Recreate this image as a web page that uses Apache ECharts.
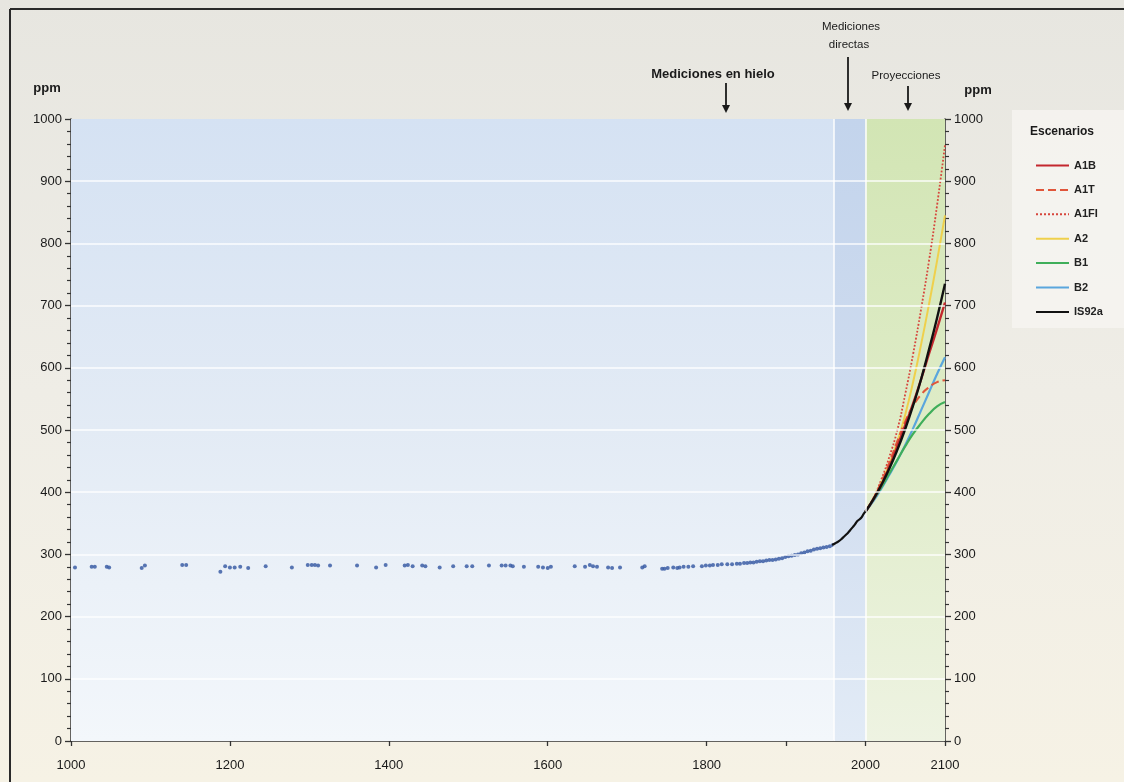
<!DOCTYPE html>
<html>
<head>
<meta charset="utf-8">
<script src="https://cdn.jsdelivr.net/npm/echarts@6/dist/echarts.min.js"></script>
<style>html,body{margin:0;padding:0;}#c{width:1124px;height:782px;}</style>
</head>
<body>
<div id="c"></div>
<script>
// ---- data ----
const iceYears = [1005,1026,1030,1045,1048,1089,1093,1140,1145,1188,1194,1200,1206,1213,1223,1245,1278,1298,1303,1307,1311,1326,1360,1384,1396,1420,1424,1430,1442,1446,1464,1481,1498,1505,1526,1542,1547,1553,1556,1570,1588,1594,1600,1604,1634,1647,1653,1657,1662,1676,1681,1691,1719,1722,1744,1747,1751,1758,1763,1766,1771,1777,1783,1794,1799,1804,1808,1814,1819,1826,1832,1838,1842,1847,1851,1855,1859,1863,1867,1871,1875,1879,1883,1887,1891,1895,1899,1903,1907,1911,1915,1919,1923,1927,1931,1935,1939,1943,1947,1951,1955,1959];
const iceValues = [279,280,280,280,279,278,282,283,283,272,281,279,279,280,278,281,279,283,283,283,282,282,282,279,283,282,283,281,282,281,279,281,281,281,282,282,282,282,281,280,280,279,278,280,281,280,283,281,280,279,278,279,279,281,277,277,278,279,278,279,280,280,281,281,282,282,283,283,284,284,284,285,285,286,286,287,287,288,289,289,290,291,291,292,293,294,296,297,298,299,300,302,303,305,306,308,309,310,311,312,313,315];
const directYears = [1958,1962,1966,1970,1974,1978,1982,1986,1990,1994,1998,2000];
const directValues = [315,318,321,325,330,335,341,347,354,358,366,369];
const projYears = [2000,2010,2020,2030,2040,2050,2060,2070,2080,2090,2100];
const A1B   = [369,389,412,441,474,508,543,582,623,663,705];
const A1T   = [369,390,417,448,482,514,539,557,569,577,580];
const A1FI  = [369,391,421,457,500,558,623,695,773,861,958];
const A2    = [369,390,415,446,481,525,578,638,703,772,845];
const B1    = [369,388,408,430,452,474,494,511,526,538,545];
const B2    = [369,386,406,428,451,476,503,532,561,590,617];
const IS92a = [369,389,412,438,468,502,540,582,630,680,735];
const scenarioNames = ['A1B','A1T','A1FI','A2','B1','B2','IS92a'];
const xTickValues = [1000,1200,1400,1600,1800,1900,2000,2100];
const xLabelValues = [1000,1200,1400,1600,1800,2000,2100];
const yGridValues = [100,200,300,400,500,600,700,800,900];
const periods = [[1000,1960],[1960,2000],[2000,2100]];

// ---- chart ----
const chart = echarts.init(document.getElementById('c'));
const FONT = '"Liberation Sans", Arial, sans-serif';
const NARROW = '"Liberation Sans Narrow", "Liberation Sans", Arial, sans-serif';
const zip = (xs, ys) => xs.map((x, i) => [x, ys[i]]);
const LG = (stops) => new echarts.graphic.LinearGradient(0, 0, 0, 1, stops.map((c, i) => ({offset: i / (stops.length - 1), color: c})));
const plain = (v) => String(v);

function proj(name, data, color, type, width) {
  return {
    name: name, type: 'line', data: zip(projYears, data), smooth: true,
    symbol: 'none', z: 4,
    lineStyle: {color: color, width: width || 2, type: type || 'solid'},
    itemStyle: {color: color}
  };
}
function arrow(x, y1, y2) {
  return {
    type: 'group', children: [
      {type: 'line', shape: {x1: x, y1: y1, x2: x, y2: y2 - 6}, style: {stroke: '#1a1a1a', lineWidth: 1.8}},
      {type: 'polygon', shape: {points: [[x - 4, y2 - 8], [x + 4, y2 - 8], [x, y2]]}, style: {fill: '#1a1a1a'}}
    ]
  };
}
const yAxisCommon = {
  type: 'value', min: 0, max: 1000, interval: 100,
  axisLine: {show: true, lineStyle: {color: '#333', width: 1.5}},
  axisTick: {show: true, length: 6, lineStyle: {color: '#333', width: 1.3}},
  minorTick: {show: true, splitNumber: 5, length: 4, lineStyle: {color: '#333', width: 1.2}},
  axisLabel: {color: '#1a1a1a', fontSize: 13, fontFamily: FONT, margin: 9, formatter: plain},
  splitLine: {show: false}
};

const option = {
  animation: false,
  backgroundColor: LG(['#e7e6e0', '#efede6', '#f6f2e5']),
  grid: {left: 71, right: 179, top: 119, bottom: 41},
  xAxis: {
    type: 'value', min: 1000, max: 2100, interval: 100,
    axisLine: {show: true, lineStyle: {color: '#333', width: 1.5}},
    axisTick: {show: true, length: 5, customValues: xTickValues, lineStyle: {color: '#333', width: 1.3}},
    axisLabel: {customValues: xLabelValues, color: '#1a1a1a', fontSize: 13, fontFamily: FONT, margin: 18, formatter: plain},
    splitLine: {show: false}
  },
  yAxis: [
    Object.assign({}, yAxisCommon, {position: 'left'}),
    Object.assign({}, yAxisCommon, {position: 'right'})
  ],
  legend: {
    data: scenarioNames, orient: 'vertical', left: 1030, top: 155,
    itemWidth: 33, itemHeight: 10, itemGap: 13.4,
    itemStyle: {opacity: 0},
    textStyle: {color: '#222', fontSize: 11, fontWeight: 'bold', fontFamily: FONT},
    selectedMode: false
  },
  graphic: [
    {type: 'rect', shape: {x: 1012, y: 110, width: 112, height: 218}, style: {fill: 'rgba(248,247,243,0.7)'}, z: -1},
    {type: 'line', shape: {x1: 10, y1: 9, x2: 1124, y2: 9}, style: {stroke: '#2a2a2a', lineWidth: 2}},
    {type: 'line', shape: {x1: 10, y1: 9, x2: 10, y2: 782}, style: {stroke: '#2a2a2a', lineWidth: 2}},
    {type: 'text', x: 1030, y: 132, style: {text: 'Escenarios', font: 'bold 12px ' + FONT, fill: '#1a1a1a', textVerticalAlign: 'middle'}},
    {type: 'text', x: 47, y: 88, style: {text: 'ppm', font: 'bold 13px ' + FONT, fill: '#1a1a1a', textAlign: 'center', textVerticalAlign: 'middle'}},
    {type: 'text', x: 978, y: 90, style: {text: 'ppm', font: 'bold 13px ' + FONT, fill: '#1a1a1a', textAlign: 'center', textVerticalAlign: 'middle'}},
    {type: 'text', x: 713, y: 74, style: {text: 'Mediciones en hielo', font: 'bold 13px ' + FONT, fill: '#1a1a1a', textAlign: 'center', textVerticalAlign: 'middle'}},
    {type: 'text', x: 851, y: 27, style: {text: 'Mediciones', font: '11.5px ' + NARROW, fill: '#1a1a1a', textAlign: 'center', textVerticalAlign: 'middle'}},
    {type: 'text', x: 849, y: 45, style: {text: 'directas', font: '11.5px ' + NARROW, fill: '#1a1a1a', textAlign: 'center', textVerticalAlign: 'middle'}},
    {type: 'text', x: 906, y: 76, style: {text: 'Proyecciones', font: '11.5px ' + NARROW, fill: '#1a1a1a', textAlign: 'center', textVerticalAlign: 'middle'}},
    arrow(726, 83, 113),
    arrow(848, 57, 111),
    arrow(908, 86, 111)
  ],
  series: [
    {
      name: 'fondo', type: 'line', data: [], z: -1, silent: true,
      markArea: {
        silent: true,
        data: [
          [{xAxis: periods[0][0], yAxis: 0, itemStyle: {color: LG(['#d5e2f3', '#e3ebf5', '#f3f7fb'])}}, {xAxis: periods[0][1], yAxis: 1000}],
          [{xAxis: periods[1][0], yAxis: 0, itemStyle: {color: LG(['#c3d4ec', '#cfdcef', '#e2ebf6'])}}, {xAxis: periods[1][1], yAxis: 1000}],
          [{xAxis: periods[2][0], yAxis: 0, itemStyle: {color: LG(['#d2e5b4', '#dfecc8', '#eef3e2'])}}, {xAxis: periods[2][1], yAxis: 1000}]
        ]
      },
      markLine: {
        silent: true, symbol: 'none', label: {show: false},
        lineStyle: {color: 'rgba(255,255,255,0.9)', width: 1.6, type: 'solid'},
        data: [{xAxis: periods[1][0]}, {xAxis: periods[2][0]}].concat(yGridValues.map(v => ({yAxis: v})))
      }
    },
    {
      name: 'hielo', type: 'scatter', data: zip(iceYears, iceValues), symbolSize: 4, z: 3,
      itemStyle: {color: '#3c5ea6', opacity: 0.85}
    },
    {
      name: 'directas', type: 'line', data: zip(directYears, directValues), smooth: true, symbol: 'none', z: 5,
      lineStyle: {color: '#111', width: 2.2}
    },
    proj('A1FI', A1FI, '#d6453c', 'dotted', 1.8),
    proj('A2', A2, '#efd04c', 'solid', 2),
    proj('B2', B2, '#5aa6dd', 'solid', 2.2),
    proj('B1', B1, '#3fae5a', 'solid', 2.2),
    proj('A1T', A1T, '#e0553a', 'dashed', 2),
    proj('A1B', A1B, '#c3272e', 'solid', 2.4),
    proj('IS92a', IS92a, '#111111', 'solid', 2.4)
  ]
};
chart.setOption(option);
</script>
</body>
</html>
